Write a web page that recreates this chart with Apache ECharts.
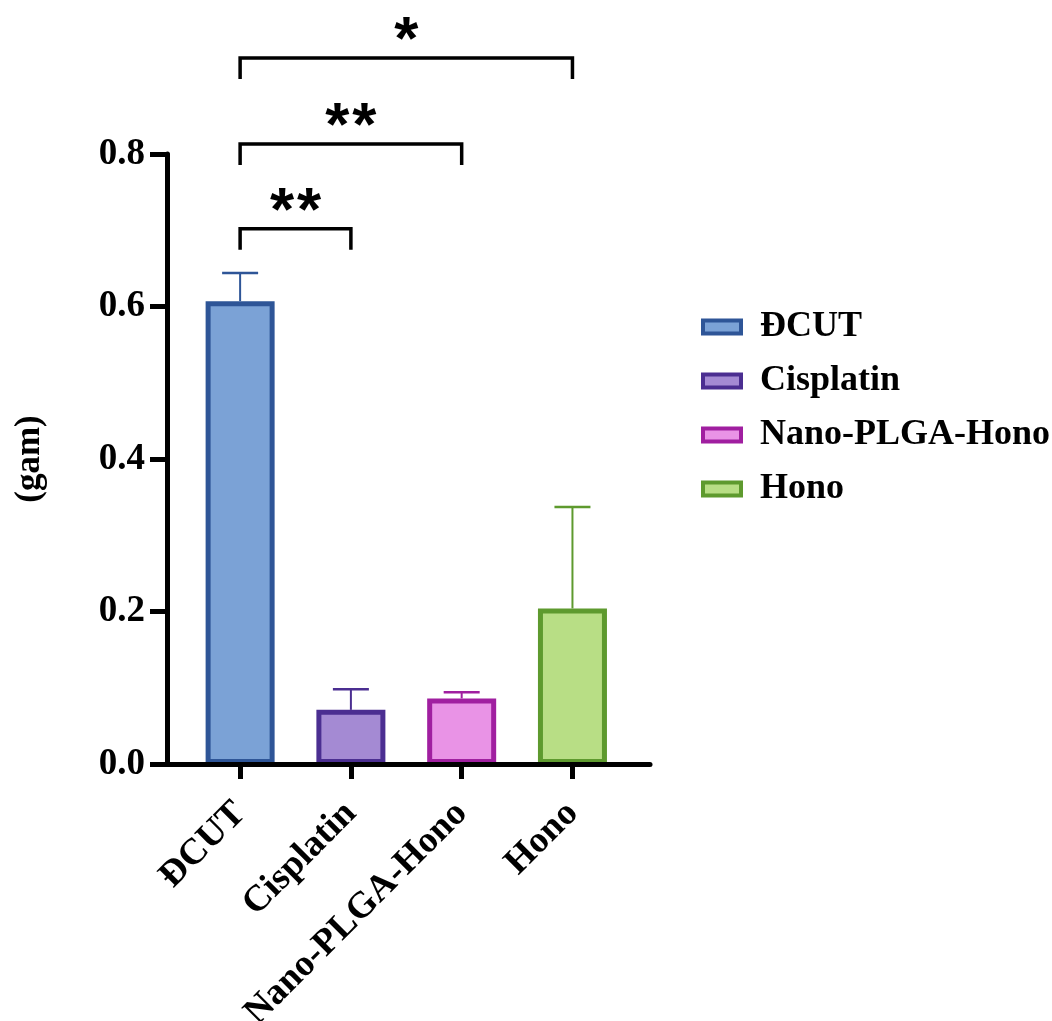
<!DOCTYPE html>
<html><head><meta charset="utf-8">
<script src="https://cdn.jsdelivr.net/npm/echarts@6/dist/echarts.min.js"></script>
<style>html,body{margin:0;padding:0;background:#fff}#c{width:1052px;height:1021px}</style>
</head><body><div id="c"></div>
<script>
// ---- data ----
const categories = ['ĐCUT', 'Cisplatin', 'Nano-PLGA-Hono', 'Hono'];
const means = [0.607, 0.071, 0.086, 0.204];
const upperErr = [0.644, 0.098, 0.094, 0.337];
const yTicks = [0, 0.2, 0.4, 0.6, 0.8];
const bracketFrom = [0, 0, 0];
const bracketTo = [1, 2, 3];
const bracketY = [0.702, 0.813, 0.926];
const bracketLabels = ['**', '**', '*'];
const yAxisName = '(gam)';

// ---- styles ----
const fillColors = ['#7ba2d6', '#a48ad3', '#e993e6', '#b8de85'];
const borderColors = ['#2e5597', '#4b2e91', '#a01fa0', '#5e9a2e'];
const serif = "'Times New Roman', 'Liberation Serif', serif";

const catIdx = categories.map((c, i) => i);

const series = categories.map((name, i) => ({
  type: 'bar', name,
  data: [[i, means[i]]],
  barWidth: 69, barGap: '-100%',
  itemStyle: { color: fillColors[i], borderColor: borderColors[i], borderWidth: 5 },
  z: 2
}));

series.push({
  type: 'custom', name: 'err', z: 1, clip: false,
  encode: { x: 0, y: 2 },
  data: categories.map((c, i) => [i, means[i], upperErr[i]]),
  renderItem: (params, api) => {
    const b = api.coord([api.value(0), api.value(1)]);
    const t = api.coord([api.value(0), api.value(2)]);
    const col = borderColors[params.dataIndex];
    return { type: 'group', children: [
      { type: 'line', shape: { x1: b[0], y1: b[1], x2: t[0], y2: t[1] }, style: { stroke: col, lineWidth: 2 } },
      { type: 'line', shape: { x1: t[0] - 18, y1: t[1], x2: t[0] + 18, y2: t[1] }, style: { stroke: col, lineWidth: 2.5 } }
    ]};
  }
});

series.push({
  type: 'custom', name: 'sig', z: 5, clip: false,
  encode: { x: 0, y: 2 },
  data: bracketFrom.map((f, k) => [f, bracketTo[k], bracketY[k]]),
  renderItem: (params, api) => {
    const l = api.coord([api.value(0), api.value(2)]);
    const r = api.coord([api.value(1), api.value(2)]);
    const drop = 21;
    const label = bracketLabels[params.dataIndex];
    const cx = (l[0] + r[0]) / 2;
    const children = [{
      type: 'polyline',
      shape: { points: [[l[0], l[1] + drop], [l[0], l[1]], [r[0], r[1]], [r[0], r[1] + drop]] },
      style: { stroke: '#000', lineWidth: 3.5, fill: null }
    }];
    const n = label.length;
    for (let j = 0; j < n; j++) {
      children.push({
        type: 'text',
        style: {
          text: '*', x: cx + (j - (n - 1) / 2) * 27, y: l[1] - 16,
          align: 'center', verticalAlign: 'middle',
          font: "bold 62px 'Liberation Sans', Arial, sans-serif", fill: '#000'
        }
      });
    }
    return { type: 'group', children };
  }
});

const chart = echarts.init(document.getElementById('c'), null, { renderer: 'canvas' });
chart.setOption({
  animation: false,
  backgroundColor: '#fff',
  grid: { left: 167, right: 402, top: 154, bottom: 257, containLabel: false, outerBoundsMode: 'none' },
  legend: {
    data: categories, orient: 'vertical', left: 696, top: 304,
    itemWidth: 38, itemHeight: 13, itemGap: 18, icon: 'rect',
    itemStyle: { borderWidth: 4 },
    textStyle: { fontFamily: serif, fontWeight: 'bold', fontSize: 36, color: '#000', padding: [0, 0, 0, 14] }
  },
  xAxis: {
    type: 'value', min: -0.66, max: 3.70, z: 3,
    axisLine: { show: true, onZero: false, lineStyle: { color: '#000', width: 5 } },
    axisTick: { show: true, customValues: catIdx, length: 15, lineStyle: { color: '#000', width: 5 } },
    axisLabel: {
      customValues: catIdx, rotate: 45, margin: 44,
      formatter: v => categories[Math.round(v)] || '',
      fontFamily: serif, fontWeight: 'bold', fontSize: 37, color: '#000'
    },
    splitLine: { show: false }
  },
  yAxis: {
    type: 'value', min: yTicks[0], max: yTicks[yTicks.length - 1], interval: 0.2,
    name: yAxisName, nameLocation: 'middle', nameGap: 120,
    nameTextStyle: { fontFamily: serif, fontWeight: 'bold', fontSize: 35, color: '#000' },
    axisLine: { show: true, onZero: false, lineStyle: { color: '#000', width: 5 } },
    axisTick: { show: true, length: 17, lineStyle: { color: '#000', width: 5 } },
    axisLabel: {
      margin: 22, formatter: v => v.toFixed(1),
      fontFamily: serif, fontWeight: 'bold', fontSize: 37, color: '#000'
    },
    splitLine: { show: false }
  },
  series
});
</script>
</body></html>
